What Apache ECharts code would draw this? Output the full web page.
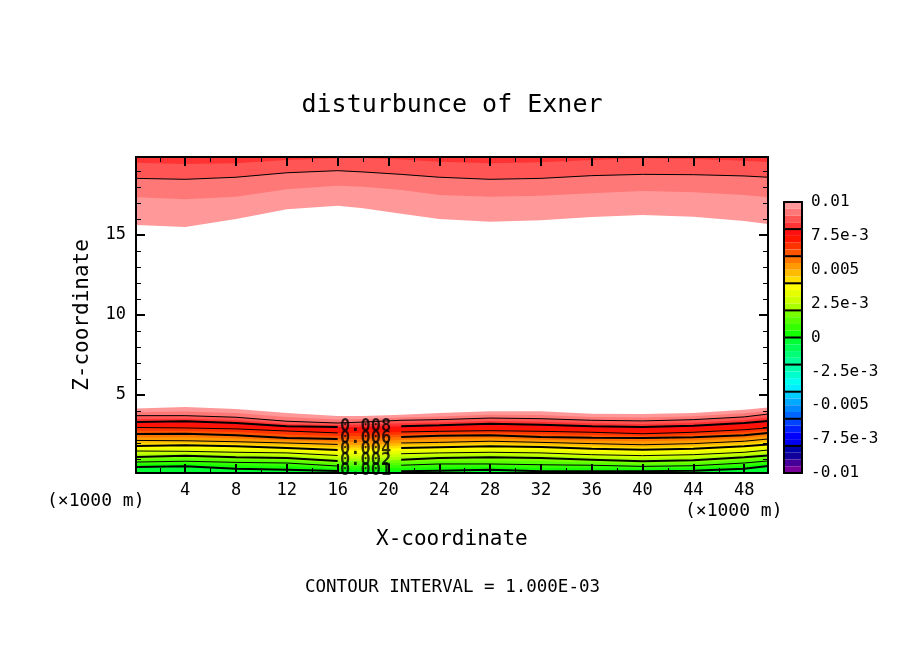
<!DOCTYPE html>
<html>
<head>
<meta charset="utf-8">
<style>html,body{margin:0;padding:0;background:#fff}#chart{width:904px;height:654px}</style>
<script src="https://cdn.jsdelivr.net/npm/echarts@6/dist/echarts.min.js"></script>
</head>
<body>
<div id="chart"></div>
<script>
var xGrid = [0.125, 4, 8, 12, 16, 18, 21, 24, 28, 32, 36, 40, 44, 48, 49.875];

// lower layer, height (1000 m) of each level along xGrid
var low0100 = [4.16,4.25,4.13,3.88,3.69,3.69,3.77,3.88,3.98,3.98,3.83,3.81,3.88,4.08,4.22];
var low0095 = [3.94,3.97,3.88,3.63,3.47,3.50,3.59,3.66,3.77,3.75,3.63,3.59,3.67,3.86,4.00];
var low0090 = [3.71,3.71,3.61,3.36,3.25,3.31,3.42,3.46,3.56,3.52,3.42,3.38,3.46,3.63,3.81];
var low0085 = [3.50,3.52,3.44,3.19,3.13,3.16,3.23,3.28,3.38,3.33,3.23,3.19,3.27,3.44,3.59];
var low0080 = [3.31,3.36,3.25,3.04,3.00,3.00,3.04,3.11,3.21,3.14,3.04,3.00,3.08,3.25,3.38];
var low0075 = [3.14,3.14,3.06,2.89,2.81,2.81,2.88,2.92,2.99,2.94,2.86,2.79,2.88,3.04,3.16];
var low0070 = [2.97,2.94,2.88,2.75,2.63,2.63,2.69,2.73,2.77,2.73,2.67,2.58,2.67,2.83,2.94];
var low0065 = [2.77,2.75,2.69,2.53,2.44,2.44,2.53,2.59,2.63,2.56,2.50,2.44,2.51,2.66,2.78];
var low0060 = [2.56,2.58,2.48,2.31,2.25,2.25,2.38,2.46,2.48,2.38,2.33,2.31,2.36,2.48,2.63];
var low0055 = [2.34,2.36,2.28,2.16,2.08,2.06,2.19,2.25,2.29,2.21,2.14,2.11,2.16,2.29,2.44];
var low0050 = [2.16,2.14,2.08,2.00,1.91,1.88,2.00,2.04,2.11,2.04,1.96,1.89,1.96,2.11,2.25];
var low0045 = [1.98,2.00,1.94,1.84,1.73,1.72,1.84,1.89,1.95,1.89,1.80,1.74,1.80,1.95,2.08];
var low0040 = [1.81,1.86,1.79,1.69,1.56,1.56,1.69,1.73,1.79,1.75,1.64,1.58,1.64,1.79,1.91];
var low0035 = [1.66,1.67,1.61,1.53,1.39,1.38,1.51,1.55,1.61,1.56,1.46,1.39,1.46,1.61,1.74];
var low0030 = [1.50,1.48,1.42,1.38,1.22,1.19,1.33,1.38,1.42,1.38,1.27,1.21,1.27,1.42,1.56];
var low0025 = [1.31,1.34,1.26,1.22,1.05,1.03,1.14,1.22,1.26,1.22,1.11,1.03,1.09,1.26,1.39];
var low0020 = [1.13,1.21,1.11,1.06,0.88,0.88,0.96,1.06,1.11,1.06,0.96,0.86,0.92,1.11,1.22];
var low0015 = [0.97,1.03,0.95,0.91,0.72,0.72,0.78,0.88,0.89,0.86,0.78,0.70,0.75,0.93,1.05];
var low0010 = [0.81,0.86,0.79,0.75,0.56,0.56,0.61,0.69,0.69,0.64,0.61,0.54,0.58,0.75,0.88];
var low0005 = [0.66,0.70,0.59,0.54,0.41,0.41,0.42,0.48,0.51,0.44,0.42,0.39,0.43,0.58,0.72];
var low0000 = [0.50,0.54,0.39,0.33,0.25,0.25,0.23,0.27,0.33,0.23,0.23,0.23,0.27,0.39,0.56];

// upper layer, the field falls off with height here
var up0100 = [15.63,15.50,16.00,16.61,16.83,16.67,16.33,16.00,15.83,15.92,16.13,16.25,16.14,15.88,15.69];
var up0095 = [17.36,17.23,17.39,17.86,18.08,18.02,17.81,17.50,17.39,17.46,17.61,17.75,17.67,17.50,17.36];
var up0090 = [18.54,18.48,18.61,18.89,19.02,18.94,18.79,18.61,18.48,18.54,18.71,18.79,18.77,18.69,18.61];
var up0085 = [19.52,19.44,19.48,19.69,19.79,19.81,19.72,19.58,19.48,19.54,19.69,19.79,19.75,19.64,19.56];

// colour of each 0.0005 cell, from 0.01 down to -0.01
var cellColors = [
  '#ff9999','#ff7878','#ff5555','#ff3333',
  '#ff1111','#ff1500','#ff3300','#ff5500',
  '#ff7700','#ff9900','#ffbb00','#ffdd00',
  '#ffff00','#e6ff00','#ccff00','#aaff00',
  '#77ff00','#55ff00','#33ff00','#11ff00',
  '#00ff33','#00ff55','#00ff77','#00ff99',
  '#00ffaa','#00ffcc','#00ffee','#00eeff',
  '#00ccff','#00aaff','#0088ff','#0066ff',
  '#0044ff','#0022ff','#0000ff','#0000ee',
  '#0000aa','#110099','#440099','#770099'
];
var cellEdges = [0.01,0.0095,0.009,0.0085,0.008,0.0075,0.007,0.0065,0.006,0.0055,0.005,0.0045,0.004,0.0035,0.003,0.0025,0.002,0.0015,0.001,0.0005,0,
  -0.0005,-0.001,-0.0015,-0.002,-0.0025,-0.003,-0.0035,-0.004,-0.0045,-0.005,-0.0055,-0.006,-0.0065,-0.007,-0.0075,-0.008,-0.0085,-0.009,-0.0095,-0.01];
var barLines = [0.008,0.006,0.004,0.002,0,-0.002,-0.004,-0.006,-0.008];
var barLabels = ['-0.01','-7.5e-3','-0.005','-2.5e-3','0','2.5e-3','0.005','7.5e-3','0.01'];

var xMajor = [4,8,12,16,20,24,28,32,36,40,44,48];
var xMinor = [2,6,10,14,18,22,26,30,34,38,42,46];
var zMajor = [5,10,15];
var zMinor = [1,2,3,4,6,7,8,9,11,12,13,14,16,17,18,19];

var contourTexts = ['0.008','0.006','0.004','0.002','0.001'];
var contourTextX = [18.2,18.2,18.2,18.2,18.2];
var contourTextZ = [3.0,2.25,1.56,0.88,0.25];

var FONT = '"DejaVu Sans Mono"';
var chart = echarts.init(document.getElementById('chart'));

var lowRows = [low0100,low0095,low0090,low0085,low0080,low0075,low0070,low0065,low0060,low0055,low0050,
  low0045,low0040,low0035,low0030,low0025,low0020,low0015,low0010,low0005,low0000];
var upRows = [up0100,up0095,up0090,up0085];

function pairs(row){
  return xGrid.map(function(x,i){return [x,row[i]]});
}
// same as pairs, but left open where the number sits on the line
function pairsWithGap(row){
  return xGrid.map(function(x,i){return [x,x===18?null:row[i]]});
}
function fillSeries(row,color,origin){
  return {type:'line',data:pairs(row),symbol:'none',silent:true,lineStyle:{width:0},
    areaStyle:{color:color,opacity:1,origin:origin},xAxisIndex:0,yAxisIndex:0};
}
function contourSeries(data,width){
  return {type:'line',data:data,symbol:'none',silent:true,connectNulls:false,
    lineStyle:{color:'#000',width:width},xAxisIndex:0,yAxisIndex:0};
}

var series = [];
// paint from the outermost level inward so each band covers the one before
lowRows.forEach(function(row,i){series.push(fillSeries(row,cellColors[i],'start'))});
upRows.forEach(function(row,i){series.push(fillSeries(row,cellColors[i],'end'))});

series.push(contourSeries(pairs(up0090),1));
series.push(contourSeries(pairs(low0090),1));
[low0080,low0070,low0060,low0050,low0040,low0030,low0020,low0010,low0000].forEach(function(row,i){
  series.push(contourSeries(pairsWithGap(row),i%2===0?2:1));
});

series.push({type:'scatter',symbolSize:0,silent:true,xAxisIndex:0,yAxisIndex:0,z:5,
  data:contourTexts.map(function(t,i){return {value:[contourTextX[i],contourTextZ[i]],name:t}}),
  label:{show:true,position:'inside',formatter:'{b}',color:'#000',fontFamily:FONT,fontSize:17,fontWeight:'bold'}});

// colour bar
var cells = cellColors.map(function(c,i){return [cellEdges[i],cellEdges[i+1]]});
series.push({type:'custom',xAxisIndex:4,yAxisIndex:4,silent:true,data:cells,encode:{y:[0,1]},
  renderItem:function(params,api){
    var a = api.coord([0,api.value(0)]);
    var b = api.coord([1,api.value(1)]);
    return {type:'rect',shape:{x:a[0],y:a[1],width:b[0]-a[0],height:b[1]-a[1]},
      style:{fill:cellColors[params.dataIndex]}};
  }});
series.push({type:'custom',xAxisIndex:4,yAxisIndex:4,silent:true,z:4,data:barLines.map(function(v){return [v]}),encode:{y:0},
  renderItem:function(params,api){
    var a = api.coord([0,api.value(0)]);
    var b = api.coord([1,api.value(0)]);
    return {type:'line',shape:{x1:a[0],y1:a[1],x2:b[0],y2:b[1]},style:{stroke:'#000',lineWidth:2}};
  }});

function plotX(position,ticks,len,showLine,showLabel){
  return {type:'value',gridIndex:0,position:position,min:0.125,max:49.875,z:10,splitLine:{show:false},
    axisLine:{show:showLine,onZero:false,lineStyle:{color:'#000',width:2}},
    axisTick:{show:true,inside:true,length:len,customValues:ticks,lineStyle:{color:'#000',width:len>6?2:1}},
    axisLabel:showLabel?{show:true,customValues:ticks,margin:9,color:'#000',fontFamily:FONT,fontSize:17}:{show:false}};
}
function plotZ(position,ticks,len,showLine,showLabel){
  return {type:'value',gridIndex:0,position:position,min:0.125,max:19.875,z:10,splitLine:{show:false},
    axisLine:{show:showLine,onZero:false,lineStyle:{color:'#000',width:2}},
    axisTick:{show:true,inside:true,length:len,customValues:ticks,lineStyle:{color:'#000',width:len>6?2:1}},
    axisLabel:showLabel?{show:true,customValues:ticks,margin:10,color:'#000',fontFamily:FONT,fontSize:17}:{show:false}};
}
function barEdge(position){
  return {type:'value',gridIndex:1,position:position,min:0,max:1,z:10,splitLine:{show:false},axisTick:{show:false},axisLabel:{show:false},
    axisLine:{show:true,onZero:false,lineStyle:{color:'#000',width:2}}};
}
function barValue(position,labels){
  return {type:'value',gridIndex:1,position:position,min:-0.01,max:0.01,interval:0.0025,z:10,splitLine:{show:false},axisTick:{show:false},
    axisLine:{show:true,onZero:false,lineStyle:{color:'#000',width:2}},
    axisLabel:labels?{show:true,margin:9,color:'#000',fontFamily:FONT,fontSize:16,
      formatter:function(v){return barLabels[Math.round((v+0.01)/0.0025)]}}:{show:false}};
}

chart.setOption({
  animation:false,
  backgroundColor:'#fff',
  title:{text:'disturbunce of Exner',left:'center',top:88,textStyle:{fontFamily:FONT,fontSize:25,fontWeight:'normal',color:'#000'}},
  grid:[
    {left:136,top:157,width:632,height:316},
    {left:784,top:202,width:18,height:271}
  ],
  xAxis:[
    plotX('bottom',xMajor,9,true,true),
    plotX('bottom',xMinor,5,false,false),
    plotX('top',xMajor,9,true,false),
    plotX('top',xMinor,5,false,false),
    barEdge('bottom'),
    barEdge('top')
  ],
  yAxis:[
    plotZ('left',zMajor,9,true,true),
    plotZ('left',zMinor,5,false,false),
    plotZ('right',zMajor,9,true,false),
    plotZ('right',zMinor,5,false,false),
    barValue('right',true),
    barValue('left',false)
  ],
  graphic:[
    {type:'text',left:376,top:529,style:{text:'X-coordinate',font:'21px '+FONT,fill:'#000'}},
    {type:'text',x:83,y:315,rotation:Math.PI/2,style:{text:'Z-coordinate',font:'21px '+FONT,fill:'#000',align:'center',verticalAlign:'middle'}},
    {type:'text',left:47,top:492,style:{text:'(×1000 m)',font:'18px '+FONT,fill:'#000'}},
    {type:'text',left:685,top:502,style:{text:'(×1000 m)',font:'18px '+FONT,fill:'#000'}},
    {type:'text',left:305,top:578,style:{text:'CONTOUR INTERVAL = 1.000E-03',font:'17.5px '+FONT,fill:'#000'}}
  ],
  series:series
});
</script>
</body>
</html>
